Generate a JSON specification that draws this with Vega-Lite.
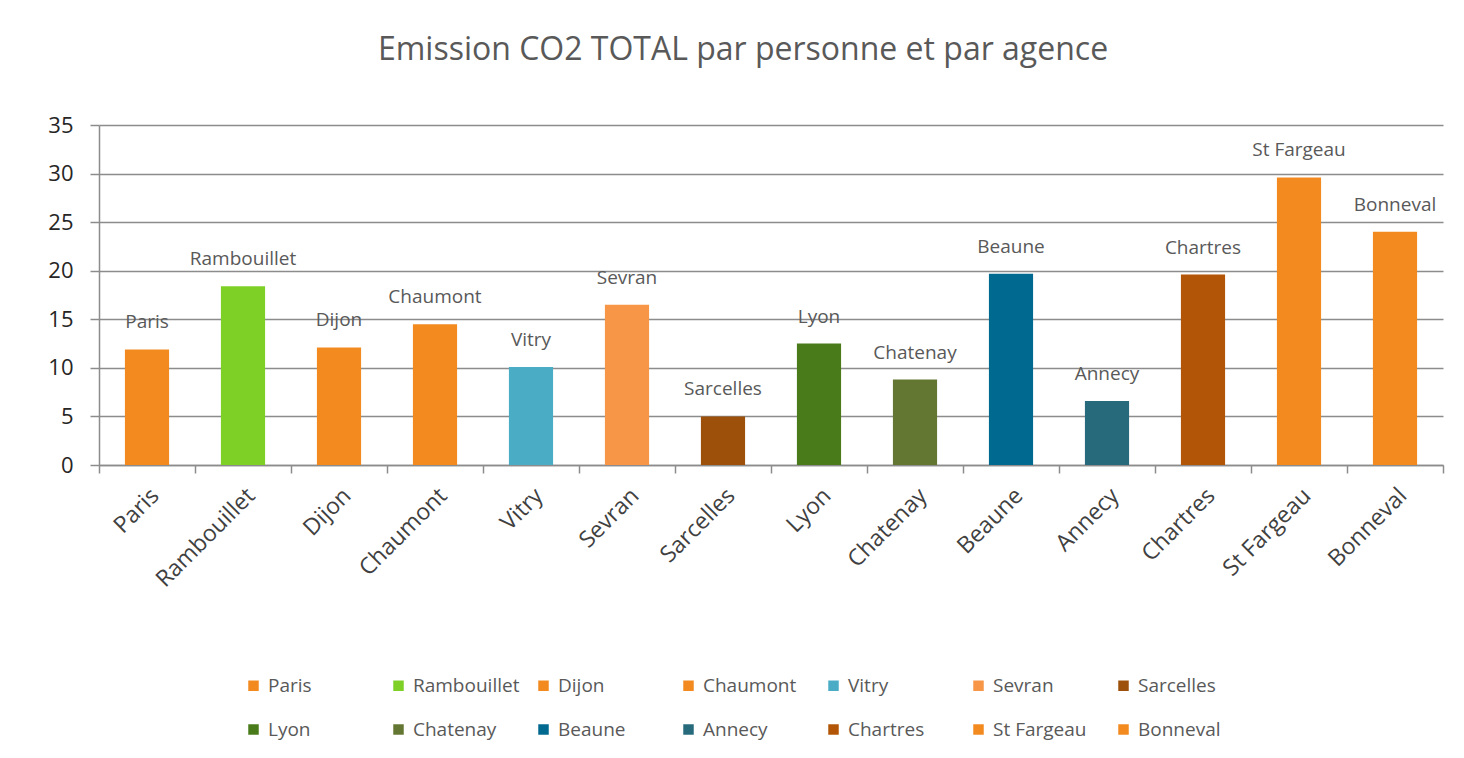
{
  "$schema": "https://vega.github.io/schema/vega-lite/v6.json",
  "autosize": {"type": "none"},
  "padding": {"left": 99, "top": 125, "right": 21, "bottom": 293},
  "width": 1344,
  "height": 340,
  "background": "white",
  "config": {
    "font": "Open Sans",
    "view": {"stroke": null}
  },
  "title": {
    "text": "Emission CO2 TOTAL par personne et par agence",
    "fontSize": 32,
    "font": "Open Sans",
    "fontWeight": "normal",
    "color": "#595959",
    "anchor": "middle",
    "dx": -28,
    "offset": 47
  },
  "data": {
    "values": [
      {"agence": "Paris", "co2": 11.9},
      {"agence": "Rambouillet", "co2": 18.4},
      {"agence": "Dijon", "co2": 12.1},
      {"agence": "Chaumont", "co2": 14.5},
      {"agence": "Vitry", "co2": 10.1},
      {"agence": "Sevran", "co2": 16.5},
      {"agence": "Sarcelles", "co2": 5.0},
      {"agence": "Lyon", "co2": 12.5},
      {"agence": "Chatenay", "co2": 8.8},
      {"agence": "Beaune", "co2": 19.7},
      {"agence": "Annecy", "co2": 6.6},
      {"agence": "Chartres", "co2": 19.6},
      {"agence": "St Fargeau", "co2": 29.6},
      {"agence": "Bonneval", "co2": 24.0}
    ]
  },
  "encoding": {
    "x": {
      "field": "agence",
      "type": "nominal",
      "sort": null,
      "title": null,
      "scale": {"paddingInner": 0, "paddingOuter": 0},
      "axis": {
        "tickBand": "extent",
        "labelAngle": -45,
        "labelFontSize": 23,
        "labelColor": "#404040",
        "labelPadding": 11,
        "tickColor": "#8c8c8c",
        "tickWidth": 1.5,
        "tickSize": 8,
        "domainColor": "#8c8c8c",
        "domainWidth": 1.5,
        "grid": false
      }
    },
    "y": {
      "field": "co2",
      "type": "quantitative",
      "title": null,
      "scale": {"domain": [0, 35], "nice": false},
      "axis": {
        "values": [0, 5, 10, 15, 20, 25, 30, 35],
        "labelFontSize": 22,
        "labelColor": "#262626",
        "labelPadding": 17,
        "tickColor": "#8c8c8c",
        "tickWidth": 1.5,
        "tickSize": 9,
        "domain": true,
        "domainColor": "#8c8c8c",
        "domainWidth": 1.5,
        "gridColor": "#8c8c8c",
        "gridWidth": 1.5
      }
    }
  },
  "layer": [
    {
      "mark": {"type": "bar", "width": {"band": 0.46}},
      "encoding": {
        "color": {
          "field": "agence",
          "type": "nominal",
          "sort": null,
          "scale": {
            "domain": ["Paris", "Rambouillet", "Dijon", "Chaumont", "Vitry", "Sevran", "Sarcelles", "Lyon", "Chatenay", "Beaune", "Annecy", "Chartres", "St Fargeau", "Bonneval"],
            "range": ["#F28A20", "#7ED027", "#F28A20", "#F28A20", "#4BACC6", "#F79646", "#9C500A", "#4A7B1A", "#637733", "#006990", "#276A7C", "#B35507", "#F28A20", "#F28A20"]
          },
          "legend": {
            "title": null,
            "orient": "none",
            "legendX": 145,
            "legendY": 551,
            "direction": "horizontal",
            "columns": 7,
            "gridAlign": "all",
            "columnPadding": 14,
            "rowPadding": 24,
            "symbolType": "square",
            "symbolSize": 110,
            "symbolStrokeWidth": 0,
            "labelFontSize": 19,
            "labelColor": "#595959",
            "labelOffset": 5,
            "labelLimit": 200
          }
        }
      }
    },
    {
      "mark": {"type": "text", "dy": -27, "baseline": "middle", "fontSize": 19, "color": "#595959"},
      "encoding": {"text": {"field": "agence"}}
    }
  ]
}
